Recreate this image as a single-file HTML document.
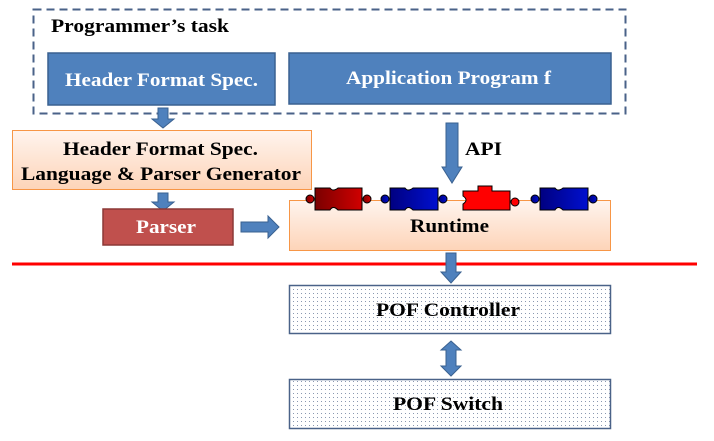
<!DOCTYPE html>
<html><head><meta charset="utf-8"><style>
html,body{margin:0;padding:0;background:#fff}
text{font-family:"Liberation Serif","DejaVu Serif",serif;font-weight:bold}
</style></head><body>
<svg width="714" height="436" viewBox="0 0 714 436" xmlns="http://www.w3.org/2000/svg">
<defs>
<linearGradient id="og" x1="0" y1="0" x2="0" y2="1"><stop offset="0" stop-color="#fff4ee"/><stop offset="1" stop-color="#fdd4b8"/></linearGradient>
<pattern id="dots" width="4" height="4" patternUnits="userSpaceOnUse"><rect width="4" height="4" fill="#fff"/><rect x="1" y="1" width="1" height="1" fill="#8a98b0"/></pattern>
<linearGradient id="dr" x1="0" x2="1"><stop offset="0" stop-color="#7a0000"/><stop offset="1" stop-color="#d00000"/></linearGradient>
<linearGradient id="bl" x1="0" x2="1"><stop offset="0" stop-color="#000080"/><stop offset="1" stop-color="#0010d0"/></linearGradient>
</defs>
<rect x="33.5" y="9.5" width="592" height="104" fill="none" stroke="#4a6288" stroke-width="2" stroke-dasharray="8,5"/>
<text x="51" y="32" font-size="19" fill="#000" textLength="178" lengthAdjust="spacingAndGlyphs">Programmer’s task</text>
<rect x="48" y="53" width="227" height="52" fill="#4f81bd" stroke="#3a6190" stroke-width="1.5"/>
<text x="65" y="86" font-size="19" fill="#fff" textLength="193" lengthAdjust="spacingAndGlyphs">Header Format Spec.</text>
<rect x="289" y="53" width="322" height="51" fill="#4f81bd" stroke="#3a6190" stroke-width="1.5"/>
<text x="346" y="84" font-size="19" fill="#fff" textLength="205" lengthAdjust="spacingAndGlyphs">Application Program f</text>
<path d="M158 108 H168 V119 H174 L163 128 L152 119 H158 Z" fill="#4f81bd" stroke="#3a6190"/>
<rect x="12.5" y="130.5" width="299" height="59" fill="url(#og)" stroke="#f79646"/>
<text x="63" y="155" font-size="19" fill="#000" textLength="195" lengthAdjust="spacingAndGlyphs">Header Format Spec.</text>
<text x="21" y="180" font-size="19" fill="#000" textLength="280" lengthAdjust="spacingAndGlyphs">Language &amp; Parser Generator</text>
<path d="M158 193 H168 V202 H174 L163 211 L152 202 H158 Z" fill="#4f81bd" stroke="#3a6190"/>
<rect x="103" y="209" width="130" height="36" fill="#c0504d" stroke="#8c3836" stroke-width="1.5"/>
<text x="136" y="233" font-size="19" fill="#fff" textLength="60" lengthAdjust="spacingAndGlyphs">Parser</text>
<path d="M241 222 H268 V216 L279 227 L268 238 V232 H241 Z" fill="#4f81bd" stroke="#3a6190"/>
<path d="M446 123 H458 V167 H462 L452 183 L442 167 H446 Z" fill="#4f81bd" stroke="#3a6190"/>
<text x="465" y="155" font-size="19" fill="#000" textLength="37" lengthAdjust="spacingAndGlyphs">API</text>
<rect x="289.5" y="200.5" width="321" height="50" fill="url(#og)" stroke="#f79646"/>
<text x="410" y="232" font-size="19" fill="#000" textLength="79" lengthAdjust="spacingAndGlyphs">Runtime</text>
<g stroke="#000" stroke-width="1">
<g fill="url(#dr)"><path d="M315 188 H330 q3 4 8 0 H362 V210 H338 q-5 -5 -8 0 H315 Z"/><circle cx="310" cy="199" r="4"/><circle cx="367" cy="199" r="4"/></g>
<g fill="url(#bl)"><path d="M390 188 H405 q3 4 8 0 H438 V210 H413 q-5 -5 -8 0 H390 Z"/><circle cx="385" cy="199" r="4"/><circle cx="443" cy="199" r="4"/></g>
<g fill="#ff0000"><path d="M463 191 H478 V186 H492 V191 H510 V210 H463 V204 q6 -4 0 -8 Z"/><circle cx="515" cy="202" r="4"/></g>
<g fill="url(#bl)"><path d="M540 188 H555 q3 4 8 0 H588 V210 H563 q-5 -5 -8 0 H540 Z"/><circle cx="535" cy="199" r="4"/><circle cx="593" cy="199" r="4"/></g>
</g>
<line x1="12" y1="264" x2="697" y2="264" stroke="#ff0000" stroke-width="3"/>
<path d="M446 253 H456 V272 H461 L451 283 L441 272 H446 Z" fill="#4f81bd" stroke="#3a6190"/>
<rect x="289.5" y="285.5" width="321" height="48" fill="url(#dots)" stroke="#4a6288" stroke-width="1.5"/>
<text x="376" y="316" font-size="19" fill="#000" textLength="144" lengthAdjust="spacingAndGlyphs">POF Controller</text>
<path d="M451 341 L461 350 H456 V366 H461 L451 376 L441 366 H446 V350 H441 Z" fill="#4f81bd" stroke="#3a6190"/>
<rect x="289.5" y="379.5" width="321" height="49" fill="url(#dots)" stroke="#4a6288" stroke-width="1.5"/>
<text x="393" y="410" font-size="19" fill="#000" textLength="110" lengthAdjust="spacingAndGlyphs">POF Switch</text>
</svg>
</body></html>
